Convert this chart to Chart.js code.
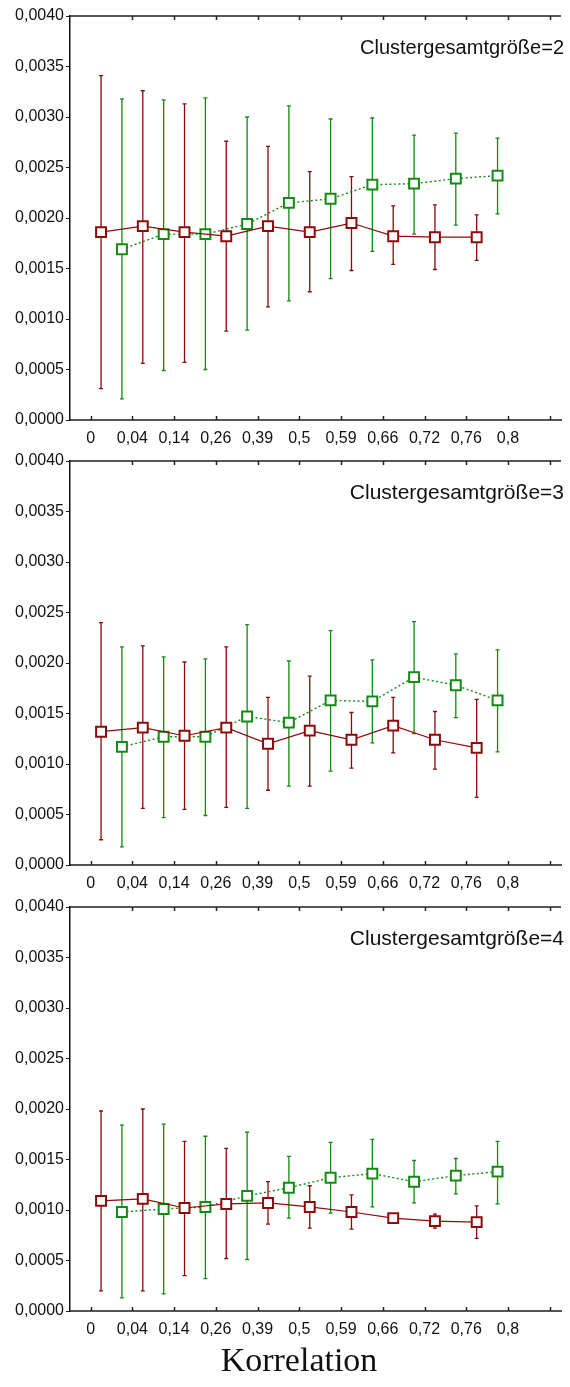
<!DOCTYPE html>
<html>
<head>
<meta charset="utf-8">
<script src="https://cdn.jsdelivr.net/npm/chart.js@4"></script>
<style>
  body { margin: 0; background: #fff; width: 570px; height: 1387px; position: relative; overflow: hidden; }
  .panel { position: absolute; left: 0; width: 570px; height: 470px; }
  #xTitle { position: absolute; left: 0; width: 598px; top: 1343px; text-align: center;
            font-family: "Liberation Serif", serif; font-size: 34px; line-height: 34px; color: #111; }
</style>
</head>
<body>
<div class="panel" style="top:0px"><canvas id="chart2" width="570" height="470"></canvas></div>
<div class="panel" style="top:445px"><canvas id="chart3" width="570" height="470"></canvas></div>
<div class="panel" style="top:891px"><canvas id="chart4" width="570" height="470"></canvas></div>
<div id="xTitle">Korrelation</div>
<script>
// categories (x tick labels)
const xLabels = ['0', '0,04', '0,14', '0,26', '0,39', '0,5', '0,59', '0,66', '0,72', '0,76', '0,8'];
const xTickValues = [0, 1, 2, 3, 4, 5, 6, 7, 8, 9, 10, 11];
const yTickStep = 0.0005;

// Clustergesamtgröße=2
const redMean2  = [0.00186, 0.00192, 0.00186, 0.00182, 0.00192, 0.00186, 0.00195, 0.00182, 0.00181, 0.00181];
const redHigh2  = [0.00341, 0.00326, 0.00313, 0.00276, 0.00271, 0.00246, 0.00241, 0.00212, 0.00213, 0.00203];
const redLow2   = [0.00031, 0.00056, 0.00057, 0.00088, 0.00112, 0.00127, 0.00148, 0.00154, 0.00149, 0.00158];
const greenMean2 = [0.00169, 0.00184, 0.00184, 0.00194, 0.00215, 0.00219, 0.00233, 0.00234, 0.00239, 0.00242];
const greenHigh2 = [0.00318, 0.00317, 0.00319, 0.00300, 0.00311, 0.00298, 0.00299, 0.00282, 0.00284, 0.00279];
const greenLow2  = [0.00021, 0.00049, 0.00050, 0.00089, 0.00118, 0.00140, 0.00167, 0.00184, 0.00193, 0.00204];

// Clustergesamtgröße=3
const redMean3  = [0.00132, 0.00136, 0.00128, 0.00136, 0.00120, 0.00133, 0.00124, 0.00138, 0.00124, 0.00116];
const redHigh3  = [0.00240, 0.00217, 0.00201, 0.00216, 0.00166, 0.00187, 0.00151, 0.00166, 0.00152, 0.00164];
const redLow3   = [0.00025, 0.00056, 0.00055, 0.00057, 0.00074, 0.00078, 0.00096, 0.00111, 0.00095, 0.00067];
const greenMean3 = [0.00117, 0.00127, 0.00127, 0.00147, 0.00141, 0.00163, 0.00162, 0.00186, 0.00178, 0.00163];
const greenHigh3 = [0.00216, 0.00206, 0.00204, 0.00238, 0.00202, 0.00232, 0.00203, 0.00241, 0.00209, 0.00213];
const greenLow3  = [0.00018, 0.00047, 0.00049, 0.00056, 0.00078, 0.00093, 0.00121, 0.00130, 0.00146, 0.00112];

// Clustergesamtgröße=4
const redMean4  = [0.00109, 0.00111, 0.00102, 0.00106, 0.00107, 0.00103, 0.00098, 0.00092, 0.00089, 0.00088];
const redHigh4  = [0.00198, 0.00200, 0.00168, 0.00161, 0.00128, 0.00124, 0.00115, 0.00093, 0.00096, 0.00104];
const redLow4   = [0.00020, 0.00020, 0.00035, 0.00052, 0.00086, 0.00082, 0.00081, 0.00091, 0.00082, 0.00072];
const greenMean4 = [0.00098, 0.00101, 0.00103, 0.00114, 0.00122, 0.00132, 0.00136, 0.00128, 0.00134, 0.00138];
const greenHigh4 = [0.00184, 0.00185, 0.00173, 0.00177, 0.00153, 0.00167, 0.00170, 0.00149, 0.00151, 0.00168];
const greenLow4  = [0.00013, 0.00017, 0.00032, 0.00051, 0.00092, 0.00097, 0.00103, 0.00107, 0.00116, 0.00106];

const RED = '#8b0a0a';
const GREEN = '#138a13';
const tickFont = { family: '"Liberation Sans", Arial, sans-serif', size: 16 };

// vertical error bars with small caps, drawn under the lines and markers
const errorBars = {
  id: 'errorBars',
  beforeDatasetsDraw(chart) {
    const { ctx, scales: { x, y } } = chart;
    chart.data.datasets.forEach(ds => {
      ctx.save();
      ctx.strokeStyle = ds.errColor;
      ctx.lineWidth = 1.3;
      ds.data.forEach((p, i) => {
        const px = x.getPixelForValue(p.x);
        const top = y.getPixelForValue(ds.errHigh[i]);
        const bot = y.getPixelForValue(ds.errLow[i]);
        ctx.beginPath();
        ctx.moveTo(px, top); ctx.lineTo(px, bot);
        ctx.moveTo(px - 2, top); ctx.lineTo(px + 2, top);
        ctx.moveTo(px - 2, bot); ctx.lineTo(px + 2, bot);
        ctx.stroke();
      });
      ctx.restore();
    });
  }
};

// top frame line, inward x ticks and panel caption
const frame = {
  id: 'frame',
  afterDraw(chart, args, opts) {
    const { ctx, chartArea: a, scales: { x } } = chart;
    ctx.save();
    ctx.strokeStyle = '#222';
    ctx.lineWidth = 1.5;
    ctx.beginPath();
    ctx.moveTo(a.left, a.top); ctx.lineTo(a.right, a.top);
    x.ticks.forEach(t => {
      const px = Math.round(x.getPixelForValue(t.value)) + 0.5;
      ctx.moveTo(px, a.bottom); ctx.lineTo(px, a.bottom - 4);
      if (t.value > 0) { ctx.moveTo(px, a.top); ctx.lineTo(px, a.top + 4); }
    });
    ctx.stroke();
    ctx.fillStyle = '#111';
    ctx.font = opts.size + 'px "Liberation Sans", Arial, sans-serif';
    ctx.textAlign = 'right';
    ctx.textBaseline = 'alphabetic';
    ctx.fillText(opts.text, 564, a.top + 38);
    ctx.restore();
  }
};

function makeChart(id, title, titleSize, rMean, rHigh, rLow, gMean, gHigh, gLow) {
  const ctx = document.getElementById(id).getContext('2d');
  new Chart(ctx, {
    type: 'line',
    data: {
      datasets: [{
        data: rMean.map((v, i) => ({ x: i + 0.25, y: v })),
        errHigh: rHigh, errLow: rLow, errColor: RED,
        borderColor: RED, borderWidth: 1.2,
        pointStyle: 'rect', pointRadius: 7, pointBorderWidth: 2,
        pointBorderColor: RED, pointBackgroundColor: '#fff'
      }, {
        data: gMean.map((v, i) => ({ x: i + 0.75, y: v })),
        errHigh: gHigh, errLow: gLow, errColor: GREEN,
        borderColor: GREEN, borderWidth: 1.4, borderDash: [2, 2.5],
        pointStyle: 'rect', pointRadius: 7, pointBorderWidth: 2,
        pointBorderColor: GREEN, pointBackgroundColor: '#fff'
      }]
    },
    options: {
      responsive: false,
      animation: false,
      layout: { padding: { top: 16, right: 0, left: 0, bottom: 0 } },
      plugins: {
        legend: { display: false },
        tooltip: { enabled: false },
        frame: { text: title, size: titleSize }
      },
      elements: { line: { tension: 0 } },
      scales: {
        x: {
          type: 'linear', min: -0.494, max: 11.27,
          afterBuildTicks: ax => { ax.ticks = xTickValues.map(v => ({ value: v })); },
          afterFit: s => { s.height = 50; },
          ticks: {
            autoSkip: false, maxRotation: 0, padding: 1, color: '#111', font: tickFont,
            callback: v => (xLabels[v] !== undefined ? xLabels[v] : '')
          },
          grid: { display: false },
          border: { display: true, color: '#555', width: 2 }
        },
        y: {
          min: 0, max: 0.004,
          afterFit: s => { s.width = 70; },
          ticks: {
            stepSize: yTickStep, padding: 2, color: '#111', font: tickFont,
            callback: v => v.toFixed(4).replace('.', ',')
          },
          grid: { drawOnChartArea: false, tickLength: 4, color: '#222' },
          border: { color: '#111', width: 1.5 }
        }
      }
    },
    plugins: [errorBars, frame]
  });
}

makeChart('chart2', 'Clustergesamtgröße=2', 20, redMean2, redHigh2, redLow2, greenMean2, greenHigh2, greenLow2);
makeChart('chart3', 'Clustergesamtgröße=3', 21, redMean3, redHigh3, redLow3, greenMean3, greenHigh3, greenLow3);
makeChart('chart4', 'Clustergesamtgröße=4', 21, redMean4, redHigh4, redLow4, greenMean4, greenHigh4, greenLow4);
</script>
</body>
</html>
